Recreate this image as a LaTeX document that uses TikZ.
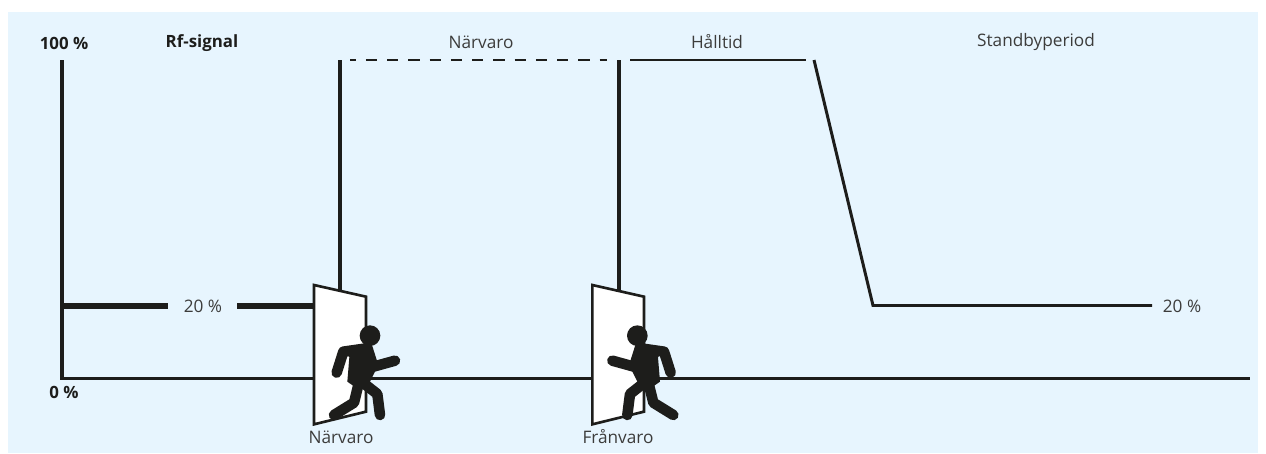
\documentclass[tikz,border=0pt]{standalone}
\usepackage{fontspec}
\setmainfont{Open Sans}
\usepackage{tikz}
\usetikzlibrary{calc}

\definecolor{panelblue}{HTML}{E7F5FE}
\definecolor{inkblack}{HTML}{1D1D1B}
\definecolor{labelgray}{HTML}{3C3C3B}

\begin{document}
\begin{tikzpicture}[
  x=0.02cm, y=-0.02cm,
  every node/.style={font=\fontsize{9.8pt}{11pt}\selectfont, text=labelgray, inner sep=0pt},
  boldlabel/.style={font=\fontsize{9.6pt}{11pt}\selectfont\bfseries, text=inkblack},
  signal/.style={draw=inkblack, line width=1.8pt},
  thinsignal/.style={draw=inkblack, line width=1.7pt},
  lowsignal/.style={draw=inkblack, line width=3.4pt},
  doorleaf/.style={draw=inkblack, fill=white, line width=1.5pt, line join=miter},
  limb/.style={draw=inkblack, line width=6pt, line cap=round, line join=round}
]
  \useasboundingbox (0,0) rectangle (1266,453);
  \fill[panelblue] (8,12) rectangle (1258,453);

  \coordinate (axtop) at (62,60);
  \coordinate (axorigin) at (62,378.5);
  \coordinate (axend) at (1250,378.5);
  \coordinate (lowa) at (62,306);
  \coordinate (lowb) at (168,306);
  \coordinate (lowc) at (237,306);
  \coordinate (lowd) at (315,306);
  \coordinate (ina) at (340,60);
  \coordinate (inb) at (340,292);
  \coordinate (outa) at (619,60);
  \coordinate (outb) at (619,292);
  \coordinate (dasha) at (350,60);
  \coordinate (dashb) at (607,60);
  \coordinate (holda) at (630,60);
  \coordinate (holdb) at (806,60);
  \coordinate (falla) at (814,60);
  \coordinate (fallb) at (873,305.5);
  \coordinate (fallc) at (1152,305.5);

  \draw[signal] (axtop) -- (axorigin) -- (axend);
  \draw[lowsignal] (lowa) -- (lowb);
  \draw[lowsignal] (lowc) -- (lowd);
  \draw[signal] (ina) -- (inb);
  \draw[signal] (outa) -- (outb);
  \draw[thinsignal, dash pattern=on 6.4pt off 5.7pt, dash phase=3.1pt] (dasha) -- (dashb);
  \draw[thinsignal] (holda) -- (holdb);
  \draw[thinsignal] (falla) -- (fallb) -- (fallc);

  % door and runner, going in
  \begin{scope}[shift={(290,270)}, x=0.02cm/3, y=-0.02cm/3]
    \draw[doorleaf] (72,45) -- (228,80) -- (228,425) -- (72,463) -- cycle;
    \fill[inkblack] (240,197) circle (31);
    \fill[inkblack] (160,236) -- (245,222) -- (265,285) -- (240,335) -- (205,358) -- (172,335) -- (178,262) -- cycle;
    \draw[limb] (140,308) -- (160,245) -- (230,235);
    \draw[limb] (250,290) -- (315,272);
    \draw[limb] (215,335) -- (262,372) -- (270,435);
    \draw[limb] (205,345) -- (192,398) -- (132,435);
  \end{scope}

  % door and runner, going out
  \begin{scope}[shift={(570,270)}, x=0.02cm/3, y=-0.02cm/3]
    \draw[doorleaf] (67,45) -- (222,80) -- (222,425) -- (67,463) -- cycle;
    \fill[inkblack] (202,197) circle (31);
    \fill[inkblack] (282,236) -- (197,222) -- (177,285) -- (202,335) -- (237,358) -- (270,335) -- (264,262) -- cycle;
    \draw[limb] (302,308) -- (282,245) -- (212,235);
    \draw[limb] (192,290) -- (127,272);
    \draw[limb] (227,335) -- (180,372) -- (172,435);
    \draw[limb] (237,345) -- (250,398) -- (310,435);
  \end{scope}

  \node[boldlabel] (top100) at (64,43) {100 \%};
  \node[boldlabel] (rfsignal) at (202,43) {Rf-signal};
  \node[boldlabel] (bottom0) at (64,392) {0 \%};
  \node (lowleft) at (203,306) {20 \%};
  \node (lowright) at (1182,306) {20 \%};
  \node (presence) at (481,42) {Närvaro};
  \node (holdtime) at (717,42) {Hålltid};
  \node (standby) at (1036,42) {Standbyperiod};
  \node (doorin) at (341,437) {Närvaro};
  \node (doorout) at (618,437) {Frånvaro};
\end{tikzpicture}
\end{document}
